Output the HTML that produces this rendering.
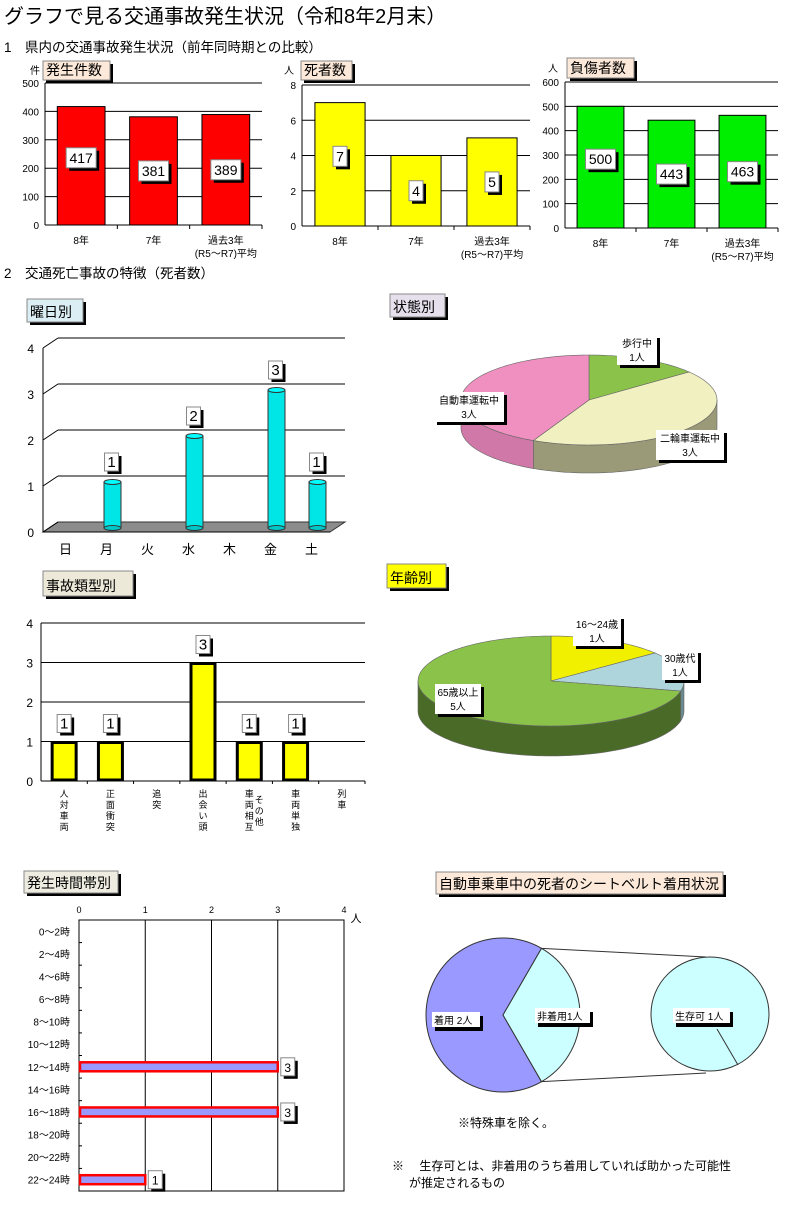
<!DOCTYPE html>
<html><head><meta charset="utf-8">
<style>
body{margin:0;background:#fff;width:796px;height:1219px;overflow:hidden}
svg{display:block;font-family:"Liberation Sans","Noto Sans CJK JP",sans-serif}
</style></head>
<body>
<svg id="s" width="796" height="1219" viewBox="0 0 796 1219" xmlns="http://www.w3.org/2000/svg">
<text x="4" y="23" font-size="20">グラフで見る交通事故発生状況（令和8年2月末）</text>
<text x="4" y="52" font-size="13.5">1　県内の交通事故発生状況（前年同時期との比較）</text>
<text x="4" y="278" font-size="13.5">2　交通死亡事故の特徴（死者数）</text>
<text x="458" y="1127" font-size="12">※特殊車を除く。</text>
<text x="392" y="1170" font-size="12">※　 生存可とは、非着用のうち着用していれば助かった可能性</text>
<text x="409" y="1187" font-size="12">が推定されるもの</text>
</svg>
<script>
const yearCats=["8年","7年","過去3年"];
const accidents=[417,381,389];
const deaths=[7,4,5];
const injuries=[500,443,463];
const dayCats=["日","月","火","水","木","金","土"];
const dayVals=[0,1,0,2,0,3,1];
const typeCats=[["人","対","車","両"],["正","面","衝","突"],["追","突"],["出","会","い","頭"],["車","両","相","互"],["車","両","単","独"],["列","車"]];
const typeVals=[1,1,0,3,1,1,0];
const stateCats=["歩行中","二輪車運転中","自動車運転中"];
const stateVals=[1,3,3];
const ageCats=["16～24歳","30歳代","65歳以上"];
const ageVals=[1,1,5];
const hourCats=["0～2時","2～4時","4～6時","6～8時","8～10時","10～12時","12～14時","14～16時","16～18時","18～20時","20～22時","22～24時"];
const hourVals=[0,0,0,0,0,0,3,0,3,0,0,1];
const beltCats=["着用","非着用"];
const beltVals=[2,1];

const S=document.getElementById('s');
const NS="http://www.w3.org/2000/svg";
function el(tag,attrs,parent){const e=document.createElementNS(NS,tag);for(const k in attrs)e.setAttribute(k,attrs[k]);(parent||S).appendChild(e);return e;}
function txt(x,y,s,size,anchor,parent){const t=el('text',{x:x,y:y,'font-size':size,'text-anchor':anchor||'start'},parent);t.textContent=s;return t;}
function titleBox(x,y,w,h,s,bg,name){const g=el('g',{});


el('rect',{x:x+3,y:y+3,width:w,height:h,fill:'#000'},g);el('rect',{x:x,y:y,width:w,height:h,fill:bg,stroke:'#888'},g);txt(x+3,y+h-5,s,14,'start',g);return g;}
function valBox(cx,cy,s,name,fs){const g=el('g',{});


const w=s.length*8+6,h=fs?18:20;el('rect',{x:cx-w/2+3,y:cy-h/2+3,width:w,height:h,fill:'#000'},g);el('rect',{x:cx-w/2,y:cy-h/2,width:w,height:h,fill:'#fff',stroke:'#888'},g);txt(cx,cy+5,s,fs||14,'middle',g);return g;}

function barChart(o){
  const y=v=>o.bot-(v/o.max)*(o.bot-o.top);
  const g=el('g',{});
  
  
  for(let t=0;t<=o.max;t+=o.step){el('line',{x1:o.x0,x2:o.x1,y1:y(t),y2:y(t),stroke:'#000'},g);txt(o.x0-6,y(t)+4,String(t),10,'end',g);}
  el('line',{x1:o.x0,x2:o.x0,y1:o.top,y2:o.bot,stroke:'#000'},g);
  const slot=(o.x1-o.x0)/o.vals.length;
  o.vals.forEach((v,i)=>{
    const cx=o.x0+slot*(i+0.5),bw=slot*0.66;
    const r=el('rect',{x:cx-bw/2,y:y(v),width:bw,height:o.bot-y(v),fill:o.color,stroke:'#000'},g);
    
    
    valBox(cx,(y(v)+o.bot)/2-(i==0?8:0),String(v),'value-label-'+o.key+'-'+i);
    txt(cx,o.bot+19,o.cats[i],10,'middle',g);
    if(i==2)txt(cx,o.bot+32,"(R5～R7)平均",10,'middle',g);
    el('line',{x1:o.x0+slot*(i+1),x2:o.x0+slot*(i+1),y1:o.bot,y2:o.bot+4,stroke:'#000'},g);
  });
}
barChart({name:'accidents-chart',key:'accidents',x0:45,x1:262,top:83,bot:225,max:500,step:100,vals:accidents,cats:yearCats,color:'#ff0000'});
barChart({name:'deaths-chart',key:'deaths',x0:302,x1:530,top:85,bot:226,max:8,step:2,vals:deaths,cats:yearCats,color:'#ffff00'});
barChart({name:'injuries-chart',key:'injuries',x0:565,x1:778,top:82,bot:228,max:600,step:100,vals:injuries,cats:yearCats,color:'#00ee00'});
txt(30,74,"件",10,'start');txt(284,74,"人",10,'start');txt(548,72,"人",10,'start');
titleBox(43,61,67,19,"発生件数",'#fde9d9','accidents-title');
titleBox(301,61,51,19,"死者数",'#fde9d9','deaths-title');
titleBox(567,58,67,20,"負傷者数",'#fde9d9','injuries-title');

(function(){
  const g=el('g',{});
  
  
  const fb=532,ft=348,dx=15,dy=-10,x0=43,x1=330,unit=(fb-ft)/4;
  const yf=v=>fb-v*unit;
  el('polygon',{points:`${x0},${fb} ${x0+dx},${fb+dy} ${x1+dx},${fb+dy} ${x1},${fb}`,fill:'#8c8c8c',stroke:'#333'},g);
  for(let t=0;t<=4;t++){
    el('line',{x1:x0,y1:yf(t),x2:x0+dx,y2:yf(t)+dy,stroke:'#000'},g);
    if(t>0)el('line',{x1:x0+dx,y1:yf(t)+dy,x2:x1+dx,y2:yf(t)+dy,stroke:'#000'},g);
    txt(34,yf(t)+5,String(t),12,'end',g);
  }
  el('line',{x1:x0,x2:x0,y1:ft,y2:fb,stroke:'#000'},g);
  el('line',{x1:x0,x2:x1,y1:fb,y2:fb,stroke:'#000'},g);
  const slot=(x1-x0)/7;
  dayVals.forEach((v,i)=>{
    const cx=x0+slot*(i+0.5)+8;
    txt(x0+slot*(i+0.5)+2,fb+22,dayCats[i],13,'middle',g);
    if(v<=0)return;
    const by=fb-4,ty=by-v*unit,w=17;
    const c=el('g',{},g);
    
    
    el('rect',{x:cx-w/2,y:ty,width:w,height:by-ty,fill:'#00e5e5',stroke:'#333'},c);
    el('ellipse',{cx:cx,cy:by,rx:w/2,ry:2.5,fill:'#00c8c8',stroke:'#333'},c);
    el('ellipse',{cx:cx,cy:ty,rx:w/2,ry:2.5,fill:'#00ffff',stroke:'#333'},c);
    valBox(cx-1,ty-20,String(v),'weekday-value-'+i,15);
  });
})();
titleBox(27,299,56,23,"曜日別",'#dbeef4','weekday-title');

(function(){
  const g=el('g',{});
  
  
  const x0=41,x1=365,top=623,bot=781;const y=v=>bot-v*(bot-top)/4;
  for(let t=0;t<=4;t++){el('line',{x1:x0,x2:x1,y1:y(t),y2:y(t),stroke:'#000'},g);txt(33,y(t)+5,String(t),12,'end',g);}
  el('line',{x1:x0,x2:x0,y1:top,y2:bot,stroke:'#000'},g);
  const slot=(x1-x0)/7;
  typeVals.forEach((v,i)=>{
    const cx=x0+slot*(i+0.5);
    el('line',{x1:x0+slot*(i+1),x2:x0+slot*(i+1),y1:bot,y2:bot+3,stroke:'#000'},g);
    typeCats[i].forEach((ch,k)=>txt(cx,bot+16+k*11,ch,9,'middle',g));
    if(i==4)["そ","の","他"].forEach((ch,k)=>txt(cx+10,bot+22+k*11,ch,9,'middle',g));
    if(v<=0)return;
    const r=el('rect',{x:cx-12,y:y(v)+1,width:24,height:bot-y(v)-2,fill:'#ffff00',stroke:'#000','stroke-width':3},g);
    
    
    valBox(cx,y(v)-18,String(v),'type-value-'+i,15);
  });
})();
titleBox(43,571,90,25,"事故類型別",'#ece9d8','accident-type-title');

function pie3d(o){
  const g=el('g',{});
  
  
  const tot=o.vals.reduce((a,b)=>a+b,0);
  const P=(t,d)=>[o.cx+o.rx*Math.cos(t),o.cy+o.ry*Math.sin(t)+(d||0)];
  let a=-Math.PI/2;const segs=[];
  o.vals.forEach((v,i)=>{const b=a+v/tot*2*Math.PI;segs.push([a,b,i]);a=b;});
  segs.forEach(([s,e,i])=>{
    const lo=Math.max(s,0),hi=Math.min(e,Math.PI);
    const parts=[[lo,hi],[Math.max(s,2*Math.PI),Math.min(e,3*Math.PI)]];
    parts.forEach(([l,h])=>{ if(h<=l)return;
      let d=`M${P(l)} `;for(let t=l;t<=h;t+=0.03)d+=`L${P(t)} `;d+=`L${P(h)} L${P(h,o.depth)} `;
      for(let t=h;t>=l;t-=0.03)d+=`L${P(t,o.depth)} `;d+=`L${P(l,o.depth)} Z`;
      el('path',{d:d,fill:o.side[i],stroke:'#666','stroke-width':0.6},g);});
  });
  segs.forEach(([s,e,i])=>{
    let d=`M${o.cx},${o.cy} L${P(s)} `;for(let t=s;t<e;t+=0.03)d+=`L${P(t)} `;d+=`L${P(e)} Z`;
    const p=el('path',{d:d,fill:o.colors[i],stroke:'#666','stroke-width':0.6},g);
    
    
  });
  o.labels.forEach((l,i)=>{
    const lg=el('g',{},g);
    
    
    el('rect',{x:l[0]+3,y:l[1]+3,width:l[2],height:30,fill:'#000'},lg);
    el('rect',{x:l[0],y:l[1],width:l[2],height:30,fill:'#fff'},lg);
    txt(l[0]+l[2]/2,l[1]+12,o.cats[i],10,'middle',lg);
    txt(l[0]+l[2]/2,l[1]+26,o.vals[i]+"人",10,'middle',lg);
  });
}
pie3d({name:'status-pie',key:'status',cx:589,cy:400,rx:128,ry:45,depth:28,vals:stateVals,cats:stateCats,
  colors:['#8bc34a','#f0f0c0','#f090c0'],side:['#5a7a30','#9a9a78','#d078a8'],
  labels:[[617,335,40],[656,430,68],[434,392,70]]});
titleBox(390,294,55,23,"状態別",'#e6e0ec','status-title');
pie3d({name:'age-pie',key:'age',cx:551,cy:681,rx:133,ry:45,depth:30,vals:ageVals,cats:ageCats,
  colors:['#f0f000','#aed4dc','#8bc34a'],side:['#b0b000','#6a8a90','#4a6a28'],
  labels:[[573,616,48],[662,650,36],[435,684,46]]});
titleBox(387,564,59,24,"年齢別",'#ffff00','age-title');

(function(){
  const g=el('g',{});
  
  
  const x0=79,x1=344,top=920,bot=1191;const x=v=>x0+v*(x1-x0)/4;const rh=(bot-top)/12;
  el('rect',{x:x0,y:top,width:x1-x0,height:bot-top,fill:'none',stroke:'#000'},g);
  for(let t=0;t<=4;t++){if(t>0&&t<4)el('line',{x1:x(t),x2:x(t),y1:top,y2:bot,stroke:'#000'},g);txt(x(t),913,String(t),9,'middle',g);}
  txt(356,922,"人",11,'middle',g);
  hourVals.forEach((v,i)=>{
    const cy=top+rh*(i+0.5);
    txt(70,cy+4,hourCats[i],10,'end',g);
    if(i>0)el('line',{x1:x0,x2:x0+3,y1:top+rh*i,y2:top+rh*i,stroke:'#000'},g);
    if(v<=0)return;
    const r=el('rect',{x:x0+1,y:cy-4.5,width:x(v)-x0-1,height:9,fill:'#9999ff',stroke:'#ff0000','stroke-width':2.5},g);
    
    
    valBox(x(v)+10,cy,String(v),'hour-value-'+i,12);
  });
})();
titleBox(24,871,94,22,"発生時間帯別",'#eeece1','hour-title');

(function(){
  const g=el('g',{});
  
  
  const cx=503,cy=1015,r=77;const tot=beltVals.reduce((a,b)=>a+b,0);
  const half=beltVals[1]/tot*Math.PI;
  const P=t=>[cx+r*Math.cos(t),cy+r*Math.sin(t)];
  const a=P(-half),b=P(half);
  el('line',{x1:a[0],y1:a[1],x2:706,y2:957,stroke:'#333'},g);
  el('line',{x1:b[0],y1:b[1],x2:706,y2:1073,stroke:'#333'},g);
  const p1=el('path',{d:`M${cx},${cy} L${b} A${r},${r} 0 ${half<Math.PI/2?1:0} 1 ${a} Z`,fill:'#9999ff',stroke:'#333'},g);
  
  
  const p2=el('path',{d:`M${cx},${cy} L${a} A${r},${r} 0 0 1 ${b} Z`,fill:'#ccffff',stroke:'#333'},g);
  
  
  const c2=el('ellipse',{cx:710,cy:1014,rx:59,ry:57,fill:'#ccffff',stroke:'#333'},g);
  
  
  el('line',{x1:717,y1:1029,x2:738,y2:1065,stroke:'#333'},g);
  [[432,1012,'着用 '+beltVals[0]+'人',48],[535,1008,'非着用'+beltVals[1]+'人',55],[673,1008,'生存可 '+beltVals[1]+'人',57]].forEach((l,i)=>{
    const lg=el('g',{},g);
    
    
    el('rect',{x:l[0]+3,y:l[1]+4,width:l[3],height:15,fill:'#000'},lg);
    el('rect',{x:l[0],y:l[1],width:l[3],height:15,fill:'#fff'},lg);
    txt(l[0]+2,l[1]+12,l[2],10,'start',lg);
  });
})();
titleBox(436,872,287,22,"自動車乗車中の死者のシートベルト着用状況",'#fde9d9','seatbelt-title');
</script>
</body></html>
